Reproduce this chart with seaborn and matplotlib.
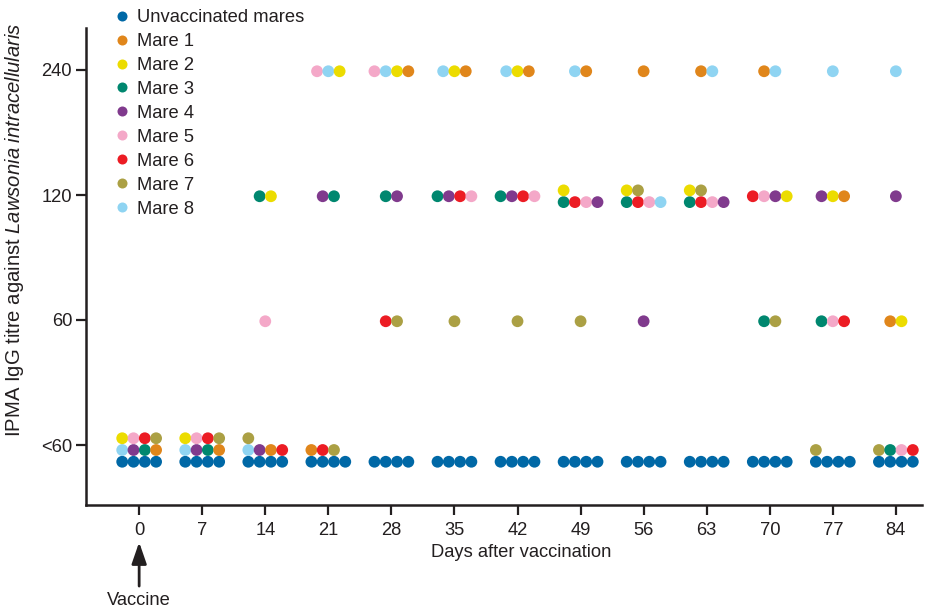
import matplotlib
matplotlib.use("Agg")
import matplotlib.pyplot as plt
import pandas as pd
import seaborn as sns

days = [0, 7, 14, 21, 28, 35, 42, 49, 56, 63, 70, 77, 84]
titre_levels = ["<60", "60", "120", "240"]
groups = ["Unvaccinated mares", "Mare 1", "Mare 2", "Mare 3", "Mare 4",
          "Mare 5", "Mare 6", "Mare 7", "Mare 8"]
colours = ["#0068a6", "#e0861b", "#ecdc00", "#00876f", "#803a8d",
           "#f4a8c8", "#ec1c24", "#aba044", "#8fd4f2"]

# number of unvaccinated mares with titre <60 on each day
unvaccinated_below60 = [4, 4, 4, 4, 4, 4, 4, 4, 4, 4, 4, 4, 4]

# vaccinated mares per day and titre: each inner list is one row of dots
# (bottom row first), mares given left to right
mares_below60 = {
    0: [[8, 4, 3, 1], [2, 5, 6, 7]],
    7: [[8, 4, 3, 1], [2, 5, 6, 7]],
    14: [[8, 4, 1, 6], [7]],
    21: [[1, 6, 7]],
    77: [[7]],
    84: [[7, 3, 5, 6]],
}
mares_60 = {
    14: [[5]], 28: [[6, 7]], 35: [[7]], 42: [[7]], 49: [[7]], 56: [[4]],
    70: [[3, 7]], 77: [[3, 5, 6]], 84: [[1, 2]],
}
mares_120 = {
    14: [[3, 2]], 21: [[4, 3]], 28: [[3, 4]], 35: [[3, 4, 6, 5]],
    42: [[3, 4, 6, 5]], 49: [[3, 6, 5, 4], [2]], 56: [[3, 6, 5, 8], [2, 7]],
    63: [[3, 6, 5, 4], [2, 7]], 70: [[6, 5, 4, 2]], 77: [[4, 2, 1]], 84: [[4]],
}
mares_240 = {
    21: [[5, 8, 2]], 28: [[5, 8, 2, 1]], 35: [[8, 2, 1]], 42: [[8, 2, 1]],
    49: [[8, 1]], 56: [[1]], 63: [[1, 8]], 70: [[1, 8]], 77: [[8]], 84: [[8]],
}

dot_w = 1.254   # spacing of dots, in days
dot_h = 0.094   # spacing of rows, in titre steps


def cell_points(day, level, rows, bottom=None):
    # rows of group names -> x/y positions, grid left aligned, centred on day
    width = max(len(r) for r in rows)
    pts = []
    for r, row in enumerate(rows):
        if bottom is None:
            y = level - 0.01 + (r - (len(rows) - 1) / 2) * dot_h
        else:
            y = level + bottom + r * dot_h
        for c, g in enumerate(row):
            pts.append((day + (c - (width - 1) / 2) * dot_w, y, g))
    return pts


points = []
for i, day in enumerate(days):
    rows = [[groups[0]] * unvaccinated_below60[i]]
    rows += [[groups[m] for m in row] for row in mares_below60.get(day, [])]
    points += cell_points(day, 0, rows, bottom=-0.134)
for level, table in [(1, mares_60), (2, mares_120), (3, mares_240)]:
    for day, rows in table.items():
        points += cell_points(day, level, [[groups[m] for m in row] for row in rows])

df = pd.DataFrame(points, columns=["day", "titre", "group"])

sns.set_style("ticks")
plt.rcParams["font.family"] = ["Liberation Sans", "DejaVu Sans"]
plt.rcParams["mathtext.fontset"] = "custom"
plt.rcParams["mathtext.rm"] = "Liberation Sans"
plt.rcParams["mathtext.it"] = "Liberation Sans:italic"
ink = "#231f20"
fs = 13.2

fig = plt.figure(figsize=(9.36, 6.13), dpi=100)
ax = fig.add_axes([86 / 936, 1 - 505 / 613, 836 / 936, 477 / 613])

sns.scatterplot(data=df, x="day", y="titre", hue="group", hue_order=groups,
                palette=colours, s=72, linewidth=0, ax=ax)

ax.set_xlim(-5.9, 86.9)
ax.set_ylim(-0.48, 3.336)
ax.set_xticks(days)
ax.set_yticks(range(len(titre_levels)))
ax.set_yticklabels(titre_levels)
ax.tick_params(axis="both", length=7, width=1.6, colors=ink, labelsize=fs, labelcolor=ink)
ax.tick_params(axis="x", pad=5)
ax.tick_params(axis="y", pad=3)
sns.despine(ax=ax)
for side in ["left", "bottom"]:
    ax.spines[side].set_linewidth(1.8)
    ax.spines[side].set_color(ink)

ax.set_xlabel("Days after vaccination", fontsize=fs, color=ink)
ax.xaxis.set_label_coords(0.52, -0.082)
ax.set_ylabel("IPMA IgG titre against $\\it{Lawsonia\\ intracellularis}$",
              fontsize=14.6, color=ink)
ax.yaxis.set_label_coords(-0.072, 0.577)

ax.annotate("", xy=(0, -0.078), xytext=(0, -0.17), xycoords=ax.get_xaxis_transform(),
            annotation_clip=False,
            arrowprops=dict(arrowstyle="-|>,head_length=1.3,head_width=0.45",
                            lw=2, color=ink, mutation_scale=10, shrinkA=0, shrinkB=0))
ax.text(0, -0.2, "Vaccine", transform=ax.get_xaxis_transform(), ha="center",
        va="center", fontsize=fs, color=ink)

sns.move_legend(ax, "upper left", bbox_to_anchor=(114.5 / 936, 1 - 9 / 613),
                bbox_transform=fig.transFigure, title=None, frameon=False,
                fontsize=fs, labelspacing=0.38, handletextpad=0.41,
                handlelength=0.8, borderpad=0, borderaxespad=0, markerscale=0.85)
for t in ax.get_legend().get_texts():
    t.set_color(ink)

fig.savefig("out.png", dpi=100)
